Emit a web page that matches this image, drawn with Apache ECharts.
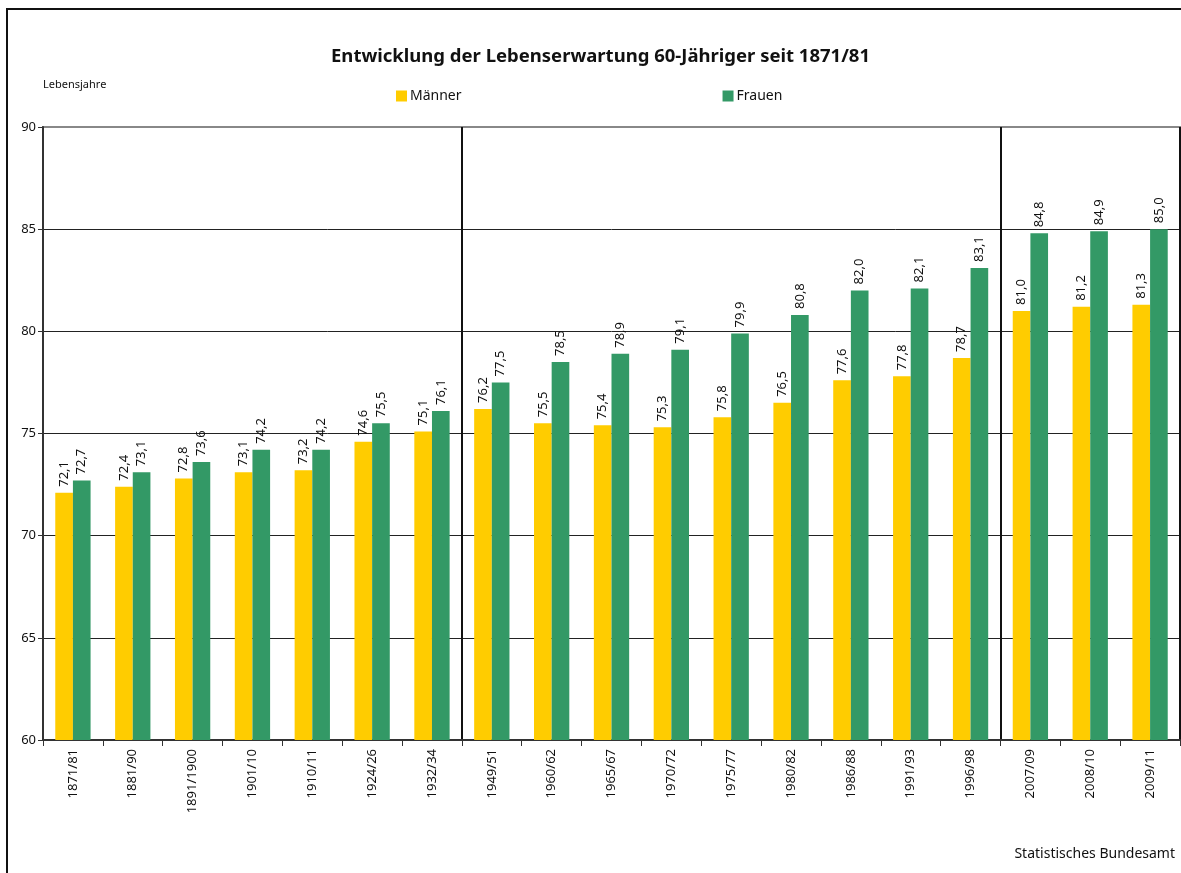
<!DOCTYPE html>
<html><head><meta charset="utf-8">
<script src="https://cdn.jsdelivr.net/npm/echarts@6/dist/echarts.min.js"></script>
<style>html,body{margin:0;padding:0;background:#fff}#c{width:1181px;height:873px}</style>
</head><body><div id="c"></div>
<script>
var categories = ['1871/81','1881/90','1891/1900','1901/10','1910/11','1924/26','1932/34','1949/51','1960/62','1965/67','1970/72','1975/77','1980/82','1986/88','1991/93','1996/98','2007/09','2008/10','2009/11'];
var maenner = [72.1,72.4,72.8,73.1,73.2,74.6,75.1,76.2,75.5,75.4,75.3,75.8,76.5,77.6,77.8,78.7,81.0,81.2,81.3];
var frauen  = [72.7,73.1,73.6,74.2,74.2,75.5,76.1,77.5,78.5,78.9,79.1,79.9,80.8,82.0,82.1,83.1,84.8,84.9,85.0];
var yTicks = [60,65,70,75,80,85,90];
var separatorsBefore = ['1949/51','2007/09'];

var FONT = '"Noto Sans", "DejaVu Sans", sans-serif';
var fmt = function(p){ return p.value.toFixed(1).replace('.', ','); };
var lbl = {show:true, position:'top', rotate:90, align:'left', verticalAlign:'middle', distance:6,
  formatter: fmt, fontSize:13, color:'#111', fontFamily: FONT};
var sepIdx = separatorsBefore.map(function(s){ return categories.indexOf(s); });

var chart = echarts.init(document.getElementById('c'), null, {renderer:'canvas'});
chart.setOption({
  animation:false,
  backgroundColor:'#fff',
  textStyle:{fontFamily:FONT},
  title:[
    {text:'Entwicklung der Lebenserwartung 60-Jähriger seit 1871/81', left:326, top:42,
     textStyle:{fontSize:18.5, fontWeight:'bold', color:'#111', fontFamily:FONT}},
    {text:'Lebensjahre', left:38, top:74, textStyle:{fontSize:11, fontWeight:'normal', color:'#111', fontFamily:FONT}},
    {text:'Statistisches Bundesamt', right:1, top:842, textStyle:{fontSize:14, fontWeight:'normal', color:'#111', fontFamily:FONT}}
  ],
  legend:{left:391, top:84, itemGap:261, itemWidth:11, itemHeight:11, icon:'rect',
    textStyle:{fontSize:14, color:'#111', fontFamily:FONT, padding:[0,0,0,-2]}},
  graphic:[
    {type:'rect', shape:{x:7, y:9, width:1200, height:900}, style:{fill:null, stroke:'#111', lineWidth:2}, silent:true}
  ],
  grid:{left:43, right:1, top:127, bottom:133, show:true, borderColor:'#888', borderWidth:2, backgroundColor:'transparent'},
  xAxis:{type:'category', data:categories,
    axisLine:{lineStyle:{color:'#333', width:2}},
    axisTick:{show:true, length:6, lineStyle:{color:'#333'}},
    axisLabel:{rotate:90, fontSize:13, color:'#111', margin:9, fontFamily:FONT, interval:0},
    splitLine:{show:true, interval:function(i){ return sepIdx.indexOf(i) >= 0; }, lineStyle:{color:'#111', width:2}}
  },
  yAxis:{type:'value', min:60, max:90, interval:5,
    axisLine:{show:true, lineStyle:{color:'#333', width:2}},
    axisTick:{show:true, length:5, lineStyle:{color:'#333'}},
    axisLabel:{fontSize:13, color:'#111', margin:7, fontFamily:FONT},
    splitLine:{show:true, lineStyle:{color:['#222','#222','#222','#222','#222','#222','#888'], width:1}}
  },
  series:[
    {name:'Männer', type:'bar', data:maenner, itemStyle:{color:'#FFCC00'}, barGap:'0%', barCategoryGap:'41%', label:lbl},
    {name:'Frauen', type:'bar', data:frauen, itemStyle:{color:'#339966'}, barGap:'0%', barCategoryGap:'41%', label:lbl}
  ]
});
</script></body></html>
